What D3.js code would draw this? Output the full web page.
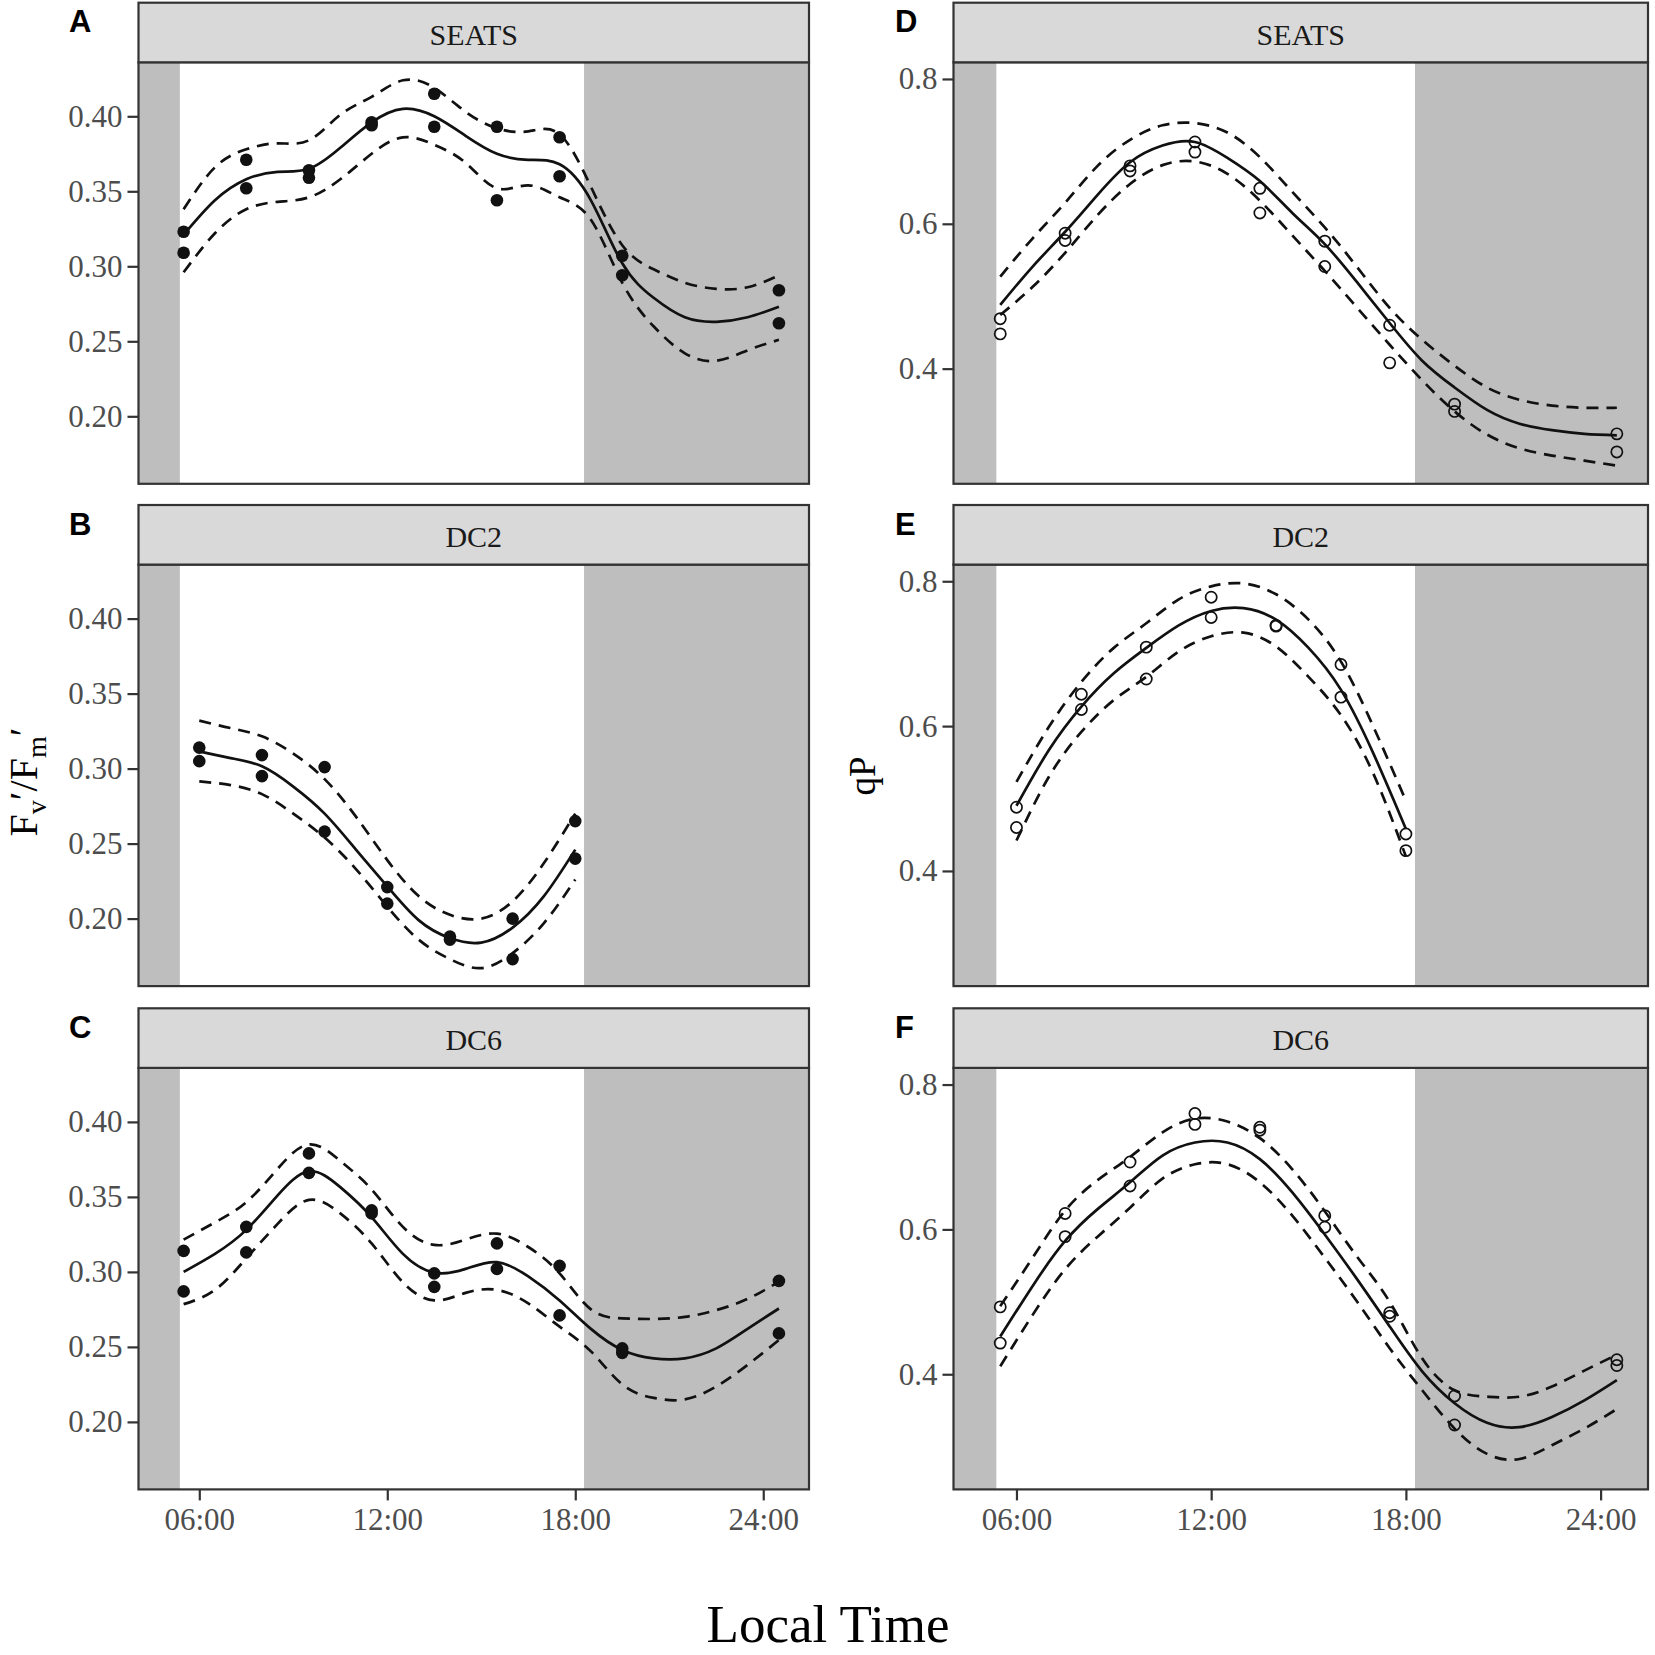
<!DOCTYPE html>
<html><head><meta charset="utf-8">
<script src="https://cdn.jsdelivr.net/npm/d3@7/dist/d3.min.js"></script>
<style>html,body{margin:0;padding:0;background:#fff} svg{display:block}</style>
</head><body>
<svg id="chart" width="1655" height="1655"></svg>
<script>
// ---------------- DATA ----------------
const xTicks = [6, 12, 18, 24];
const xTickLabels = ["06:00", "12:00", "18:00", "24:00"];
const yTicksLeft = [0.20, 0.25, 0.30, 0.35, 0.40];
const yTickLabelsLeft = ["0.20", "0.25", "0.30", "0.35", "0.40"];
const yTicksRight = [0.4, 0.6, 0.8];
const yTickLabelsRight = ["0.4", "0.6", "0.8"];
const stripLabels = ["SEATS", "DC2", "DC6"];
const panelLetters = ["A", "B", "C", "D", "E", "F"];
const sunrise = 5.38, sunset = 18.28;

const ptTimes9 = [5.5,5.5,7.5,7.5,9.5,9.5,11.5,11.5,13.5,13.5,15.5,15.5,17.5,17.5,19.5,19.5,24.5,24.5];
const ptTimes7 = [6,6,8,8,10,10,12,12,14,14,16,16,18,18];
const fitHours20 = [5.5,6.5,7.5,8.5,9.5,10.5,11.5,12.5,13.5,14.5,15.5,16.5,17.5,18.5,19.5,20.5,21.5,22.5,23.5,24.5];
const fitHours13 = [6,7,8,9,10,11,12,13,14,15,16,17,18];

// A: Fv'/Fm' SEATS
const ptA  = [0.323,0.309,0.371,0.352,0.364,0.359,0.396,0.394,0.415,0.393,0.393,0.344,0.386,0.360,0.307,0.294,0.284,0.262];
const fitA = [0.321,0.344,0.358,0.363,0.365,0.379,0.396,0.405,0.400,0.387,0.375,0.371,0.368,0.344,0.302,0.279,0.266,0.263,0.266,0.273];
const uprA = [0.338,0.366,0.378,0.382,0.384,0.401,0.413,0.424,0.419,0.403,0.392,0.390,0.388,0.353,0.314,0.298,0.289,0.285,0.286,0.294];
const lwrA = [0.296,0.322,0.338,0.343,0.346,0.358,0.375,0.386,0.381,0.369,0.352,0.354,0.346,0.331,0.289,0.260,0.242,0.237,0.244,0.251];
// B: Fv'/Fm' DC2
const ptB  = [0.314,0.305,0.309,0.295,0.301,0.258,0.221,0.210,0.188,0.186,0.200,0.173,0.265,0.240];
const fitB = [0.3115,0.307,0.3015,0.288,0.270,0.246,0.2215,0.199,0.187,0.184,0.194,0.215,0.246];
const uprB = [0.332,0.327,0.3215,0.310,0.293,0.268,0.239,0.215,0.2025,0.200,0.2115,0.237,0.270];
const lwrB = [0.2915,0.289,0.283,0.270,0.254,0.233,0.208,0.186,0.173,0.167,0.177,0.197,0.226];
// C: Fv'/Fm' DC6
const ptC  = [0.314,0.287,0.330,0.313,0.379,0.366,0.341,0.339,0.299,0.290,0.319,0.302,0.304,0.271,0.249,0.246,0.294,0.259];
const fitC = [0.300,0.312,0.328,0.351,0.367,0.3565,0.3365,0.312,0.2995,0.302,0.3065,0.297,0.281,0.262,0.248,0.2424,0.2424,0.249,0.262,0.2756];
const uprC = [0.3215,0.333,0.3465,0.3687,0.385,0.374,0.355,0.330,0.318,0.3215,0.3255,0.3166,0.299,0.275,0.269,0.2686,0.270,0.2745,0.282,0.2934];
const lwrC = [0.2785,0.288,0.309,0.332,0.348,0.339,0.319,0.293,0.281,0.286,0.288,0.279,0.2635,0.247,0.225,0.216,0.215,0.2236,0.238,0.2546];
// D: qP SEATS
const ptD  = [0.469,0.448,0.587,0.577,0.680,0.673,0.713,0.699,0.649,0.615,0.576,0.541,0.460,0.408,0.351,0.341,0.310,0.285];
const fitD = [0.488,0.541,0.589,0.640,0.685,0.708,0.713,0.691,0.659,0.615,0.572,0.519,0.463,0.411,0.374,0.343,0.324,0.315,0.310,0.308];
const uprD = [0.527,0.580,0.629,0.680,0.716,0.736,0.739,0.726,0.692,0.644,0.595,0.540,0.484,0.440,0.404,0.374,0.357,0.349,0.346,0.346];
const lwrD = [0.474,0.513,0.560,0.612,0.655,0.681,0.686,0.669,0.632,0.584,0.535,0.484,0.433,0.384,0.341,0.309,0.290,0.280,0.273,0.266];
// E: qP DC2
const ptE  = [0.488,0.460,0.644,0.623,0.709,0.665,0.778,0.750,0.739,0.738,0.685,0.640,0.451,0.428];
const fitE = [0.490,0.567,0.627,0.673,0.708,0.739,0.759,0.763,0.747,0.708,0.650,0.562,0.458];
const uprE = [0.523,0.599,0.661,0.708,0.742,0.775,0.793,0.797,0.782,0.747,0.689,0.599,0.497];
const lwrE = [0.442,0.530,0.592,0.636,0.668,0.703,0.724,0.729,0.710,0.668,0.615,0.534,0.420];
// F: qP DC6
const ptF  = [0.493,0.443,0.622,0.590,0.693,0.660,0.760,0.745,0.741,0.737,0.619,0.603,0.485,0.480,0.370,0.330,0.420,0.412];
const fitF = [0.452,0.522,0.584,0.628,0.665,0.702,0.720,0.720,0.697,0.651,0.593,0.531,0.466,0.404,0.360,0.333,0.327,0.341,0.364,0.392];
const uprF = [0.494,0.561,0.626,0.668,0.700,0.734,0.753,0.749,0.726,0.683,0.625,0.562,0.500,0.422,0.378,0.369,0.369,0.383,0.405,0.427];
const lwrF = [0.411,0.482,0.545,0.590,0.630,0.670,0.690,0.690,0.665,0.619,0.561,0.500,0.436,0.378,0.325,0.290,0.283,0.302,0.325,0.352];

// ---------------- LAYOUT ----------------
const cols = [{x0: 138.5, x1: 809}, {x0: 953.5, x1: 1648}];
const rowTops = [2.7, 505, 1008.3];
const stripH = 59.6, panelH = 421.5;
const xDomain = [4.06, 25.46];
const yDomLeft = [0.155, 0.436];
const yDomRight = [0.241, 0.823];

const panels = [
  {col:0,row:0,t:ptTimes9,p:ptA,h:fitHours20,fit:fitA,up:uprA,lo:lwrA},
  {col:0,row:1,t:ptTimes7,p:ptB,h:fitHours13,fit:fitB,up:uprB,lo:lwrB},
  {col:0,row:2,t:ptTimes9,p:ptC,h:fitHours20,fit:fitC,up:uprC,lo:lwrC},
  {col:1,row:0,t:ptTimes9,p:ptD,h:fitHours20,fit:fitD,up:uprD,lo:lwrD},
  {col:1,row:1,t:ptTimes7,p:ptE,h:fitHours13,fit:fitE,up:uprE,lo:lwrE},
  {col:1,row:2,t:ptTimes9,p:ptF,h:fitHours20,fit:fitF,up:uprF,lo:lwrF}
];

const svg = d3.select("#chart");
const serif = "'Liberation Serif','Times New Roman',serif";
const sans = "'Liberation Sans',Arial,sans-serif";
const dark = "#333333";

panels.forEach((pn, i) => {
  const c = cols[pn.col];
  const sTop = rowTops[pn.row];
  const pTop = sTop + stripH, pBot = pTop + panelH;
  const x = d3.scaleLinear().domain(xDomain).range([c.x0, c.x1]);
  const y = d3.scaleLinear().domain(pn.col === 0 ? yDomLeft : yDomRight).range([pBot, pTop]);
  const g = svg.append("g");
  const clipId = "clip" + i;
  svg.append("clipPath").attr("id", clipId).append("rect")
    .attr("x", c.x0).attr("y", pTop).attr("width", c.x1 - c.x0).attr("height", panelH);
  const pg = g.append("g").attr("clip-path", `url(#${clipId})`);
  pg.append("rect").attr("x", c.x0).attr("y", pTop).attr("width", c.x1 - c.x0).attr("height", panelH).attr("fill", "#fff");
  // night shading
  [[xDomain[0], sunrise], [sunset, xDomain[1]]].forEach(([a, b]) => {
    pg.append("rect").attr("x", x(a)).attr("y", pTop).attr("width", x(b) - x(a)).attr("height", panelH).attr("fill", "#bebebe");
  });
  const line = (arr) => d3.line().x((d, k) => x(pn.h[k])).y(d => y(d)).curve(d3.curveNatural)(arr);
  pg.append("path").attr("d", line(pn.up)).attr("fill", "none").attr("stroke", "#111").attr("stroke-width", 2.7).attr("stroke-dasharray", "12,8");
  pg.append("path").attr("d", line(pn.lo)).attr("fill", "none").attr("stroke", "#111").attr("stroke-width", 2.7).attr("stroke-dasharray", "12,8");
  pg.append("path").attr("d", line(pn.fit)).attr("fill", "none").attr("stroke", "#111").attr("stroke-width", 2.7);
  pn.p.forEach((v, k) => {
    const circ = pg.append("circle").attr("cx", x(pn.t[k])).attr("cy", y(v)).attr("r", pn.col === 0 ? 6.3 : 5.6);
    if (pn.col === 0) circ.attr("fill", "#111");
    else circ.attr("fill", "none").attr("stroke", "#111").attr("stroke-width", 1.7);
  });
  // panel border
  g.append("rect").attr("x", c.x0).attr("y", pTop).attr("width", c.x1 - c.x0).attr("height", panelH)
    .attr("fill", "none").attr("stroke", dark).attr("stroke-width", 2.2);
  // strip
  g.append("rect").attr("x", c.x0).attr("y", sTop).attr("width", c.x1 - c.x0).attr("height", stripH)
    .attr("fill", "#d9d9d9").attr("stroke", dark).attr("stroke-width", 2.2);
  g.append("text").attr("x", (c.x0 + c.x1) / 2).attr("y", sTop + 42).attr("text-anchor", "middle")
    .attr("font-family", serif).attr("font-size", 30).attr("fill", "#1a1a1a").text(stripLabels[pn.row]);
  // panel letter
  g.append("text").attr("x", pn.col === 0 ? 69 : 895).attr("y", sTop + 29.5).attr("font-family", sans)
    .attr("font-weight", "bold").attr("font-size", 31).attr("fill", "#000").text(panelLetters[i]);
  // y axis
  const yt = pn.col === 0 ? yTicksLeft : yTicksRight;
  const ytl = pn.col === 0 ? yTickLabelsLeft : yTickLabelsRight;
  const yAxis = d3.axisLeft(y).tickValues(yt).tickFormat((d, k) => ytl[k]).tickSize(11).tickPadding(5);
  const ya = g.append("g").attr("transform", `translate(${c.x0},0)`).call(yAxis);
  ya.select(".domain").remove();
  ya.selectAll(".tick line").attr("stroke", dark).attr("stroke-width", 2.2);
  ya.selectAll(".tick text").attr("font-family", serif).attr("font-size", 31).attr("fill", "#4d4d4d");
  // x axis only on bottom row
  if (pn.row === 2) {
    const xAxis = d3.axisBottom(x).tickValues(xTicks).tickFormat((d, k) => xTickLabels[k]).tickSize(11).tickPadding(8);
    const xa = g.append("g").attr("transform", `translate(0,${pBot})`).call(xAxis);
    xa.select(".domain").remove();
    xa.selectAll(".tick line").attr("stroke", dark).attr("stroke-width", 2.2);
    xa.selectAll(".tick text").attr("font-family", serif).attr("font-size", 31).attr("fill", "#4d4d4d");
  }
});

// y axis titles
const t1 = svg.append("text").attr("transform", "translate(37,782) rotate(-90)").attr("text-anchor", "middle")
  .attr("font-family", serif).attr("font-size", 40).attr("fill", "#000");
t1.append("tspan").text("F");
t1.append("tspan").attr("font-size", 28).attr("dy", 9).text("v");
t1.append("tspan").attr("dy", -9).text("′/F");
t1.append("tspan").attr("font-size", 28).attr("dy", 9).text("m");
t1.append("tspan").attr("dy", -9).text("′");

svg.append("text").attr("transform", "translate(875,776) rotate(-90)").attr("text-anchor", "middle")
  .attr("font-family", serif).attr("font-size", 37).attr("fill", "#000").text("qP");

// x axis title
svg.append("text").attr("x", 828).attr("y", 1642).attr("text-anchor", "middle")
  .attr("font-family", serif).attr("font-size", 53).attr("fill", "#000").text("Local Time");
</script></body></html>
